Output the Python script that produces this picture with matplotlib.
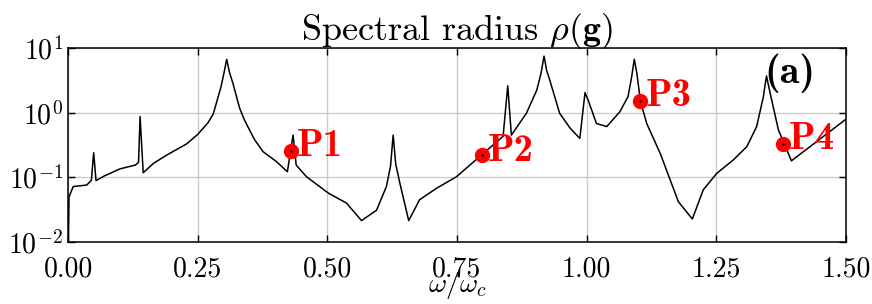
import matplotlib
matplotlib.use("Agg")
from matplotlib import pyplot as plt
import numpy as np

# frequency (omega / omega_c) and spectral radius
omega = [0.000, 0.002, 0.010, 0.036, 0.045, 0.0495, 0.054, 0.070, 0.100, 0.130,
         0.136, 0.139, 0.145, 0.165, 0.190, 0.229, 0.250, 0.270, 0.280, 0.295,
         0.301, 0.306, 0.311, 0.318, 0.331, 0.340, 0.350, 0.360, 0.376, 0.402,
         0.423, 0.434, 0.440, 0.460, 0.502, 0.537, 0.566, 0.595, 0.614, 0.622,
         0.627, 0.632, 0.640, 0.657, 0.678, 0.711, 0.749, 0.794, 0.839, 0.848,
         0.855, 0.884, 0.904, 0.912, 0.918, 0.923, 0.929, 0.948, 0.968, 0.987,
         0.997, 1.003, 1.019, 1.039, 1.064, 1.080, 1.087, 1.092, 1.097, 1.104,
         1.116, 1.142, 1.177, 1.204, 1.225, 1.251, 1.283, 1.309, 1.328, 1.341,
         1.344, 1.347, 1.351, 1.357, 1.370, 1.395, 1.500]
rho = [0.004, 0.050, 0.072, 0.076, 0.090, 0.240, 0.089, 0.105, 0.135, 0.155,
       0.170, 0.870, 0.118, 0.165, 0.220, 0.330, 0.460, 0.700, 0.950, 2.500,
       4.200, 6.700, 4.300, 2.850, 1.170, 0.780, 0.540, 0.380, 0.250, 0.175,
       0.122, 0.450, 0.155, 0.102, 0.057, 0.040, 0.0214, 0.031, 0.072, 0.150,
       0.450, 0.160, 0.081, 0.0214, 0.045, 0.068, 0.102, 0.210, 0.430, 2.600,
       0.450, 0.980, 2.240, 4.000, 7.500, 4.500, 3.200, 0.980, 0.580, 0.400,
       2.040, 1.570, 0.680, 0.610, 1.030, 1.770, 3.600, 6.700, 4.060, 1.500,
       0.680, 0.235, 0.042, 0.0227, 0.064, 0.115, 0.186, 0.298, 0.610, 1.770,
       2.600, 3.700, 2.600, 1.570, 0.540, 0.180, 0.790]

# marked points
pt_names = ["P1", "P2", "P3", "P4"]
pt_omega = [0.430, 0.799, 1.104, 1.379]
pt_rho = [0.255, 0.220, 1.510, 0.330]

xticks = [0.0, 0.25, 0.5, 0.75, 1.0, 1.25, 1.5]
yticks = [1e-2, 1e-1, 1e0, 1e1]

plt.rcParams['font.family'] = 'serif'
plt.rcParams['font.serif'] = ['cmr10']
plt.rcParams['mathtext.fontset'] = 'cm'
plt.rcParams['axes.formatter.use_mathtext'] = True

fig = plt.figure(figsize=(8.72, 3.04), dpi=100)
ax = fig.add_axes([0.078, 0.204, 0.892, 0.638])

ax.semilogy(omega, rho, color='k', lw=1.1, zorder=3)
ax.plot(pt_omega, pt_rho, 'o', color='#ff0000', mec='#ff0000', ms=10, zorder=4)
ax.plot(pt_omega, pt_rho, '.', color='k', ms=1.5, zorder=5)
for name, x, y in zip(pt_names, pt_omega, pt_rho):
    ax.annotate(name, (x, y), xytext=(4, 3), textcoords='offset points',
                ha='left', va='center', color='#ff0000', fontsize=28,
                family='cmb10', zorder=6)

ax.text(0.928, 0.87, '(a)', transform=ax.transAxes, ha='center', va='center',
        fontsize=29, family='cmb10', color='k', zorder=6)

ax.set_xlim(0, 1.5)
ax.set_ylim(1e-2, 1e1)
ax.set_xticks(xticks)
ax.set_xticklabels(['%.2f' % t for t in xticks])
ax.set_yticks(yticks)
ax.minorticks_off()
ax.tick_params(direction='in', top=True, right=True, labelsize=20, length=5, width=1)
ax.tick_params(axis='x', pad=10)
ax.grid(True, color='#cccccc', lw=1)
for s in ax.spines.values():
    s.set_linewidth(1.1)

ax.set_xlabel(r'$\omega/\omega_c$', fontsize=20, labelpad=-9)
ax.set_title(r'Spectral radius $\rho(\mathbf{g})$', fontsize=26, pad=6)

plt.savefig('out.png', dpi=100)
